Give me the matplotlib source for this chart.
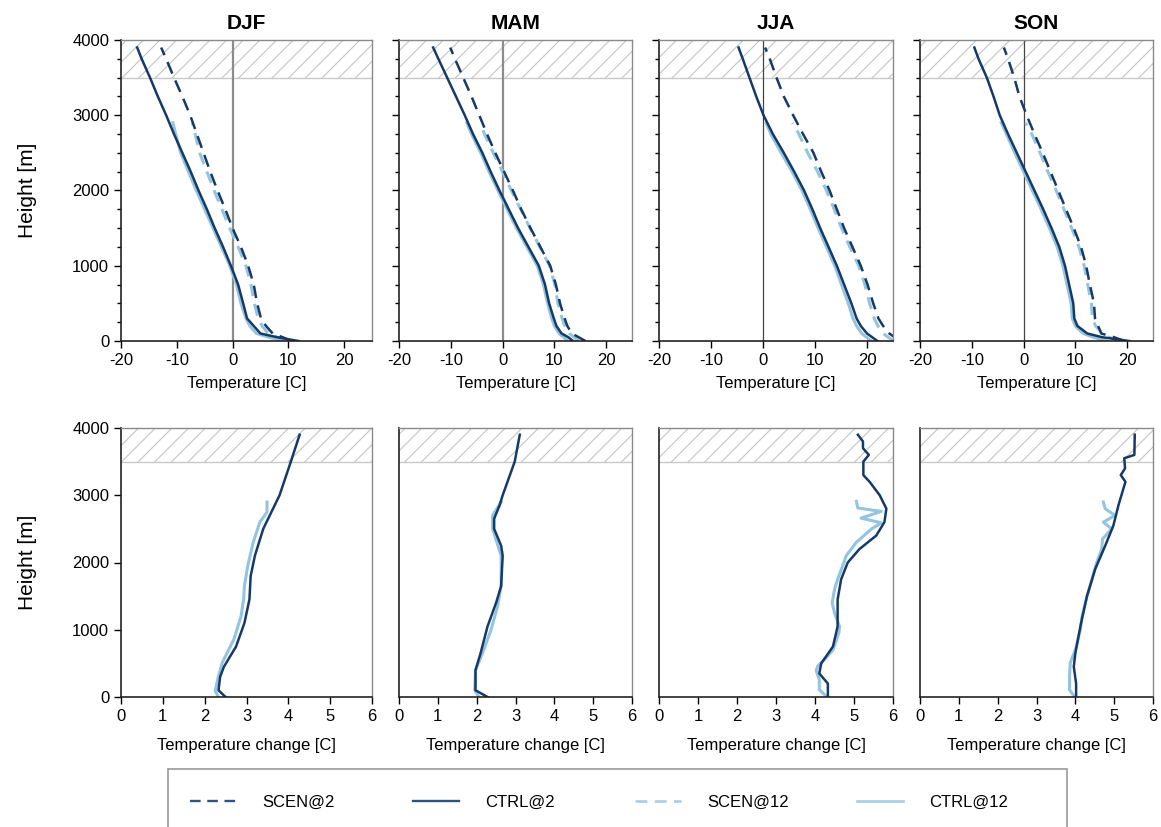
import matplotlib
matplotlib.use("Agg")
import matplotlib.pyplot as plt
from matplotlib.lines import Line2D
from matplotlib.patches import Rectangle
from matplotlib.ticker import MultipleLocator

plt.rcParams["font.family"] = ["Liberation Sans", "DejaVu Sans"]
plt.rcParams["axes.unicode_minus"] = False
plt.rcParams["hatch.linewidth"] = 0.8

SEASONS = ["DJF", "MAM", "JJA", "SON"]
LABELS = ["SCEN@2", "CTRL@2", "SCEN@12", "CTRL@12"]

# --- top row: temperature profiles [C] at these heights [m]
HT = [0, 50, 100, 200, 300, 500, 750, 1000, 1250, 1500, 1750, 2000,
      2250, 2500, 2750, 3000, 3250, 3500, 3750, 3900]
HT12 = [0, 50, 100, 200, 300, 500, 750, 1000, 1250, 1500, 1750, 2000,
        2250, 2500, 2750, 2900]

DJF_CTRL2 = [11.8, 8.0, 5.0, 3.8, 2.6, 1.9, 1.0, -0.3, -1.7, -3.2, -4.6, -6.1,
             -7.5, -9.0, -10.5, -11.9, -13.4, -14.8, -16.3, -17.1]
DJF_SCEN2 = [10.5, 9.0, 7.2, 6.0, 5.1, 4.4, 3.8, 2.8, 1.5, 0.0, -1.3, -2.7,
             -4.0, -5.2, -6.4, -7.6, -9.0, -10.5, -11.9, -12.8]
DJF_CTRL12 = [9.3, 6.5, 4.3, 3.1, 2.4, 1.5, 0.7, -0.5, -2.0, -3.5, -5.0, -6.5,
              -7.9, -9.3, -10.2, -10.7]
DJF_SCEN12 = [9.6, 8.0, 6.4, 5.3, 4.6, 3.9, 3.3, 2.4, 1.0, -0.5, -1.9, -3.3,
              -4.6, -5.9, -6.7, -7.2]

MAM_CTRL2 = [13.6, 12.7, 11.4, 10.4, 9.9, 9.0, 8.2, 7.0, 5.0, 3.0, 1.2, -0.6,
             -2.3, -3.9, -5.7, -7.3, -9.0, -10.7, -12.4, -13.4]
MAM_SCEN2 = [16.0, 14.7, 13.4, 12.5, 12.0, 11.1, 10.3, 9.2, 7.3, 5.4, 3.6, 2.0,
             0.3, -1.4, -3.0, -4.5, -6.0, -7.6, -9.2, -10.1]
MAM_CTRL12 = [12.6, 11.8, 10.9, 10.0, 9.5, 8.7, 7.9, 6.7, 4.7, 2.7, 0.9, -0.9,
              -2.6, -4.2, -6.0, -6.9]
MAM_SCEN12 = [14.7, 13.8, 12.9, 12.0, 11.5, 10.7, 10.1, 9.1, 7.2, 5.3, 3.5, 1.7,
              0.0, -1.8, -3.5, -4.3]

JJA_CTRL2 = [22.0, 21.0, 20.0, 18.8, 18.0, 17.0, 15.6, 14.2, 12.6, 11.0, 9.5, 7.9,
             6.0, 4.0, 1.9, 0.1, -1.3, -2.6, -3.9, -4.7]
JJA_SCEN2 = [26.0, 25.3, 24.3, 23.1, 22.2, 21.2, 20.1, 18.8, 17.2, 15.6, 14.2, 12.8,
             11.2, 9.7, 7.7, 5.8, 4.0, 2.6, 1.3, 0.4]
JJA_CTRL12 = [20.8, 19.9, 19.0, 18.0, 17.3, 16.4, 15.1, 13.8, 12.2, 10.6, 9.1, 7.5,
              5.6, 3.5, 1.5, 0.6]
JJA_SCEN12 = [25.1, 24.1, 23.1, 22.1, 21.4, 20.5, 19.6, 18.4, 16.7, 15.1, 13.7, 12.2,
              10.5, 8.6, 6.9, 5.7]

SON_CTRL2 = [20.4, 15.2, 12.3, 10.4, 9.8, 9.6, 8.8, 8.0, 6.9, 5.4, 3.8, 2.1,
             0.4, -1.3, -3.0, -4.6, -5.8, -7.1, -8.7, -9.5]
SON_SCEN2 = [19.5, 17.5, 15.0, 14.4, 13.8, 13.6, 12.8, 12.1, 11.1, 9.7, 8.2, 6.7,
             5.2, 3.7, 2.1, 0.6, -0.8, -1.8, -3.0, -3.8]
SON_CTRL12 = [16.0, 13.5, 11.5, 10.0, 9.4, 9.2, 8.4, 7.6, 6.5, 5.0, 3.4, 1.7,
              0.0, -1.7, -3.3, -4.3]
SON_SCEN12 = [18.5, 16.5, 15.3, 13.9, 13.3, 13.1, 12.4, 11.7, 10.7, 9.3, 7.8, 6.3,
              4.7, 3.2, 1.6, 0.4]

# --- bottom row: temperature change [C] (SCEN - CTRL)
DJF_H2 = [0, 100, 300, 450, 750, 1100, 1450, 1800, 2100, 2500, 3000, 3500, 3900]
DJF_D2 = [2.50, 2.33, 2.37, 2.46, 2.75, 2.95, 3.07, 3.10, 3.20, 3.40, 3.79, 4.06, 4.27]
DJF_H12 = [0, 90, 310, 510, 860, 1200, 1450, 1650, 1950, 2300, 2600, 2750, 2900]
DJF_D12 = [2.33, 2.25, 2.33, 2.42, 2.70, 2.87, 2.93, 2.95, 3.03, 3.16, 3.32, 3.49, 3.49]

MAM_H2 = [0, 100, 400, 650, 1050, 1400, 1650, 2100, 2250, 2500, 2650, 2850, 3000,
          3500, 3900]
MAM_D2 = [2.28, 1.97, 1.97, 2.10, 2.28, 2.50, 2.63, 2.67, 2.63, 2.45, 2.45, 2.59, 2.67,
          2.98, 3.11]
MAM_H12 = [0, 100, 400, 650, 1000, 1350, 1650, 2100, 2500, 2700, 2900]
MAM_D12 = [2.06, 1.95, 1.97, 2.15, 2.37, 2.54, 2.63, 2.63, 2.41, 2.41, 2.63]

JJA_H2 = [0, 50, 200, 350, 500, 750, 1050, 1450, 1750, 2000, 2200, 2400, 2600, 2800,
          3000, 3200, 3300, 3500, 3600, 3700, 3800, 3900]
JJA_D2 = [4.33, 4.33, 4.33, 4.11, 4.16, 4.46, 4.58, 4.58, 4.67, 4.84, 5.14, 5.57, 5.78,
          5.83, 5.66, 5.40, 5.24, 5.24, 5.38, 5.23, 5.23, 5.10]
JJA_H12 = [15, 110, 260, 390, 460, 580, 700, 950, 1050, 1250, 1400, 1600, 1750, 1950,
           2100, 2300, 2500, 2590, 2660, 2760, 2810, 2910]
JJA_D12 = [4.28, 4.11, 4.11, 4.03, 4.07, 4.28, 4.46, 4.61, 4.63, 4.50, 4.44, 4.50,
           4.58, 4.71, 4.80, 5.06, 5.45, 5.70, 5.18, 5.70, 5.10, 5.06]

SON_H2 = [0, 200, 450, 650, 1050, 1500, 1900, 2250, 2550, 2850, 3200, 3300, 3400,
          3550, 3600, 3900]
SON_D2 = [4.02, 4.02, 3.96, 4.00, 4.13, 4.30, 4.51, 4.77, 4.98, 5.11, 5.29, 5.17, 5.28,
          5.26, 5.52, 5.53]
SON_H12 = [15, 110, 310, 510, 700, 1000, 1200, 1500, 1750, 2000, 2200, 2350, 2500,
           2600, 2700, 2800, 2900]
SON_D12 = [3.96, 3.85, 3.85, 3.87, 4.00, 4.13, 4.17, 4.30, 4.43, 4.55, 4.68, 4.70, 4.94,
           4.72, 5.02, 4.77, 4.72]

TOP = {
    "DJF": (DJF_SCEN2, DJF_CTRL2, DJF_SCEN12, DJF_CTRL12),
    "MAM": (MAM_SCEN2, MAM_CTRL2, MAM_SCEN12, MAM_CTRL12),
    "JJA": (JJA_SCEN2, JJA_CTRL2, JJA_SCEN12, JJA_CTRL12),
    "SON": (SON_SCEN2, SON_CTRL2, SON_SCEN12, SON_CTRL12),
}
BOTTOM = {
    "DJF": (DJF_H2, DJF_D2, DJF_H12, DJF_D12),
    "MAM": (MAM_H2, MAM_D2, MAM_H12, MAM_D12),
    "JJA": (JJA_H2, JJA_D2, JJA_H12, JJA_D12),
    "SON": (SON_H2, SON_D2, SON_H12, SON_D12),
}

DARK = "#163a68"
LIGHT = "#93c4e0"
DASH_DARK = (0, (5, 3))
DASH_LIGHT = (0, (4, 2.6))
ZERO_STYLE = [("#8c8c8c", 1.6), ("#8c8c8c", 1.6), ("#444444", 0.9), ("#444444", 0.9)]

W, H = 1161, 827
LEFTS = [121, 399, 659, 920]
WIDTHS = [251, 233, 234, 233]
LEGEND_X = [190, 413, 635, 857]

fig = plt.figure(figsize=(W / 100, H / 100), dpi=100)


def add_px_axes(x0, y0, w, h):
    return fig.add_axes([x0 / W, 1 - (y0 + h) / H, w / W, h / H])


def style_axes(ax):
    for side in ("left", "bottom"):
        ax.spines[side].set_color("#222222")
        ax.spines[side].set_linewidth(1.2)
    for side in ("top", "right"):
        ax.spines[side].set_color("#8a8a8a")
        ax.spines[side].set_linewidth(1.0)
    ax.tick_params(which="major", direction="out", length=5, width=1, labelsize=12)
    ax.tick_params(which="minor", direction="out", length=3, width=1)
    ax.axhspan(3500, 4000, facecolor="none", edgecolor="#c4c4c4", hatch="//", lw=0)
    ax.axhline(3500, color="#c8c8c8", lw=1.0)
    ax.set_ylim(0, 4000)
    ax.set_yticks(range(0, 4001, 1000))


for i, season in enumerate(SEASONS):
    # temperature profiles
    ax = add_px_axes(LEFTS[i], 40, WIDTHS[i], 301)
    style_axes(ax)
    zc, zw = ZERO_STYLE[i]
    ax.axvline(0, color=zc, lw=zw)
    scen2, ctrl2, scen12, ctrl12 = TOP[season]
    ax.plot(scen12, HT12, color=LIGHT, lw=2.2, ls=DASH_LIGHT)
    ax.plot(ctrl12, HT12, color=LIGHT, lw=2.2)
    ax.plot(scen2, HT, color=DARK, lw=1.8, ls=DASH_DARK)
    ax.plot(ctrl2, HT, color=DARK, lw=1.8)
    ax.set_xlim(-20, 25)
    ax.set_xticks([-20, -10, 0, 10, 20])
    ax.yaxis.set_minor_locator(MultipleLocator(250))
    ax.set_title(season, fontsize=15, fontweight="bold", pad=8)
    ax.set_xlabel("Temperature [C]", fontsize=12, labelpad=6)
    if i == 0:
        ax.set_ylabel("Height [m]", fontsize=15)
        ax.yaxis.set_label_coords(-0.335, 0.5)
    else:
        ax.tick_params(axis="y", labelleft=False)

    # temperature change
    ax = add_px_axes(LEFTS[i], 428, WIDTHS[i], 269)
    style_axes(ax)
    h2, d2, h12, d12 = BOTTOM[season]
    ax.plot(d12, h12, color=LIGHT, lw=2.2)
    ax.plot(d2, h2, color=DARK, lw=1.8)
    ax.set_xlim(0, 6)
    ax.set_xticks(range(0, 7))
    ax.set_xlabel("Temperature change [C]", fontsize=12, labelpad=10)
    if i == 0:
        ax.set_ylabel("Height [m]", fontsize=15)
        ax.yaxis.set_label_coords(-0.335, 0.5)
    else:
        ax.tick_params(axis="y", left=False, labelleft=False)

# legend: one entry per column, inside an open-bottomed box
handles = [
    Line2D([], [], color="#2f5382", lw=1.7, ls=(0, (4.5, 2.8))),
    Line2D([], [], color="#2f5382", lw=1.7),
    Line2D([], [], color="#a6cfe6", lw=1.9, ls=(0, (4.5, 2.8))),
    Line2D([], [], color="#a6cfe6", lw=1.9),
]
for x, hnd, lab in zip(LEGEND_X, handles, LABELS):
    fig.legend([hnd], [lab], loc="center left", bbox_to_anchor=(x / W, 1 - 802 / H),
               frameon=False, fontsize=12, handlelength=2.76, handletextpad=1.56,
               borderpad=0, borderaxespad=0)
fig.patches.append(Rectangle((168 / W, 1 - 889 / H), 899 / W, 120 / H,
                             transform=fig.transFigure, fill=False,
                             edgecolor="#9a9a9a", lw=1.2))

fig.savefig("out.png", dpi=100)
